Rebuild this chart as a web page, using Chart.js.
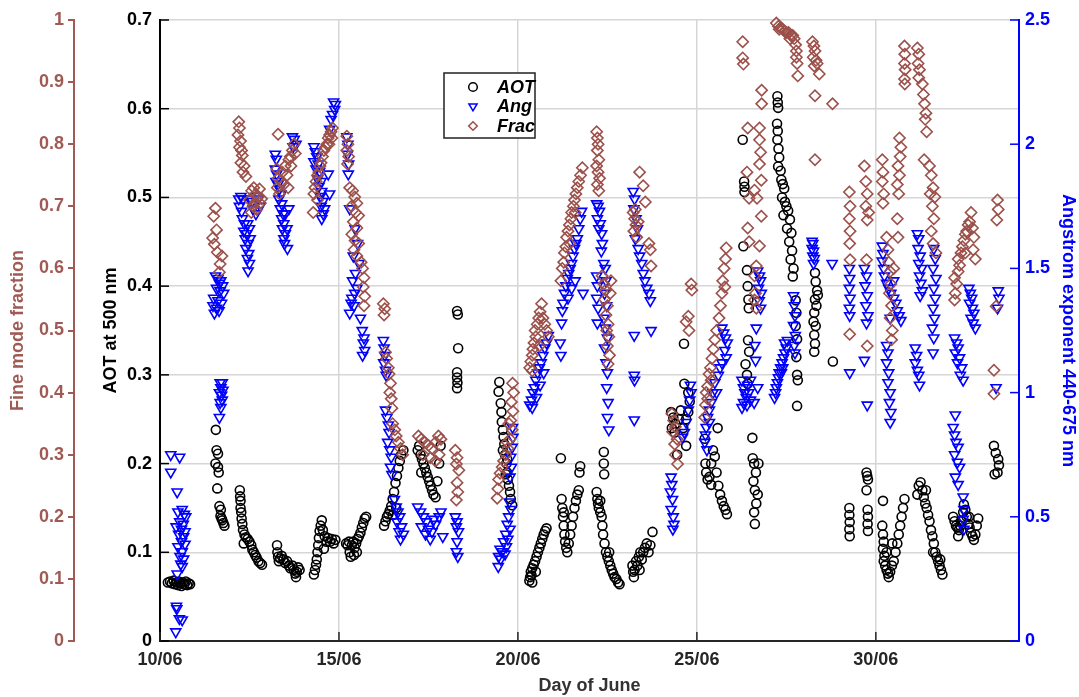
<!DOCTYPE html>
<html>
<head>
<meta charset="utf-8">
<title>AOT, Angstrom exponent and fine mode fraction - June</title>
<script src="https://cdn.jsdelivr.net/npm/chart.js"></script>
<style>
  html, body { margin: 0; padding: 0; background: #fff; }
  #wrap { width: 1079px; height: 697px; }
</style>
</head>
<body>
<div id="wrap"><canvas id="aod"></canvas></div>
<script>
// day-of-June tick positions
const dayTicks = [10, 15, 20, 25, 30];

// AOT at 500 nm, [day, value]
const aotPoints = [
  [10.22,0.066],[10.28,0.067],[10.33,0.065],[10.38,0.068],[10.42,0.064],[10.46,0.066],[10.5,0.063],[10.53,0.067],[10.57,0.065],[10.6,0.062],[10.64,0.066],[10.68,0.064],[10.72,0.067],[10.76,0.063],[10.8,0.065],[10.84,0.064],
  [11.56,0.238],[11.58,0.215],[11.62,0.211],[11.55,0.2],[11.64,0.19],[11.6,0.172],[11.66,0.152],[11.69,0.141],[11.74,0.136],[11.8,0.13],[11.72,0.138],[11.77,0.133],[11.7,0.148],[11.62,0.196],
  [12.23,0.17],[12.24,0.163],[12.25,0.158],[12.25,0.15],[12.27,0.145],[12.28,0.138],[12.3,0.132],[12.32,0.125],[12.36,0.12],[12.4,0.117],[12.45,0.115],[12.5,0.112],[12.55,0.108],[12.58,0.103],[12.62,0.1],[12.66,0.097],[12.7,0.094],[12.75,0.09],[12.8,0.088],[12.85,0.086],[12.34,0.11],
  [13.27,0.108],[13.28,0.1],[13.3,0.095],[13.32,0.09],[13.36,0.093],[13.4,0.096],[13.45,0.092],[13.5,0.088],[13.55,0.09],[13.6,0.085],[13.64,0.082],[13.7,0.085],[13.74,0.08],[13.78,0.076],[13.82,0.078],[13.86,0.083],[13.9,0.08],[13.8,0.072],
  [14.3,0.075],[14.33,0.08],[14.36,0.086],[14.38,0.092],[14.4,0.1],[14.42,0.108],[14.44,0.116],[14.46,0.124],[14.49,0.13],[14.52,0.136],[14.55,0.125],[14.6,0.118],[14.65,0.112],[14.7,0.116],[14.75,0.112],[14.8,0.115],[14.85,0.11],[14.9,0.114],[14.58,0.104],
  [15.2,0.11],[15.24,0.108],[15.28,0.112],[15.3,0.1],[15.33,0.095],[15.36,0.108],[15.4,0.112],[15.44,0.105],[15.48,0.11],[15.52,0.115],[15.56,0.118],[15.6,0.122],[15.64,0.128],[15.68,0.133],[15.72,0.138],[15.76,0.14],[15.5,0.1],[15.42,0.097],
  [16.26,0.13],[16.3,0.135],[16.34,0.14],[16.38,0.143],[16.42,0.147],[16.46,0.152],[16.5,0.16],[16.54,0.168],[16.58,0.178],[16.62,0.186],[16.66,0.195],[16.7,0.203],[16.74,0.21],[16.8,0.215],[16.6,0.15],[16.5,0.142],
  [17.2,0.215],[17.24,0.22],[17.28,0.21],[17.32,0.205],[17.36,0.2],[17.4,0.195],[17.44,0.19],[17.48,0.185],[17.52,0.18],[17.56,0.175],[17.6,0.17],[17.64,0.165],[17.7,0.162],[17.75,0.18],[17.8,0.2],[17.84,0.22],[17.3,0.19],
  [18.3,0.372],[18.32,0.368],[18.33,0.33],[18.3,0.303],[18.3,0.297],[18.31,0.291],[18.3,0.285],
  [19.48,0.292],[19.46,0.281],[19.52,0.268],[19.54,0.258],[19.55,0.247],[19.58,0.238],[19.6,0.23],[19.62,0.222],[19.58,0.215],[19.64,0.21],[19.68,0.2],[19.7,0.19],[19.72,0.182],[19.75,0.175],[19.78,0.168],[19.8,0.16],[19.84,0.153],[19.66,0.188],[19.7,0.205],
  [20.32,0.068],[20.34,0.072],[20.36,0.078],[20.38,0.074],[20.4,0.082],[20.44,0.086],[20.48,0.09],[20.52,0.095],[20.56,0.1],[20.6,0.105],[20.64,0.11],[20.68,0.115],[20.72,0.12],[20.76,0.124],[20.8,0.127],[20.4,0.066],[20.5,0.078],
  [21.2,0.206],[21.22,0.16],[21.24,0.15],[21.26,0.14],[21.28,0.13],[21.3,0.12],[21.32,0.112],[21.35,0.105],[21.38,0.1],[21.42,0.11],[21.46,0.12],[21.5,0.13],[21.54,0.14],[21.58,0.15],[21.62,0.158],[21.66,0.165],[21.7,0.17],[21.74,0.197],[21.72,0.19],[21.28,0.145],
  [22.4,0.213],[22.4,0.2],[22.41,0.188],[22.2,0.168],[22.22,0.16],[22.24,0.155],[22.26,0.15],[22.3,0.145],[22.34,0.14],[22.38,0.12],[22.42,0.11],[22.46,0.1],[22.5,0.095],[22.54,0.09],[22.58,0.085],[22.62,0.08],[22.66,0.076],[22.7,0.072],[22.75,0.07],[22.8,0.066],[22.84,0.064],[22.36,0.13],[22.3,0.158],[22.55,0.1],
  [23.2,0.085],[23.22,0.078],[23.24,0.072],[23.26,0.08],[23.3,0.09],[23.34,0.085],[23.38,0.095],[23.42,0.1],[23.46,0.092],[23.5,0.1],[23.55,0.105],[23.6,0.11],[23.65,0.1],[23.7,0.108],[23.76,0.123],[23.4,0.08],
  [24.64,0.335],[24.65,0.29],[24.76,0.28],[24.28,0.258],[24.34,0.252],[24.4,0.245],[24.3,0.24],[24.38,0.235],[24.5,0.25],[24.55,0.26],[24.62,0.24],[24.7,0.25],[24.8,0.27],[24.76,0.258],[24.7,0.22],[24.45,0.21],
  [25.22,0.228],[25.24,0.2],[25.26,0.19],[25.3,0.182],[25.35,0.185],[25.4,0.2],[25.45,0.215],[25.5,0.208],[25.55,0.19],[25.6,0.175],[25.65,0.165],[25.7,0.158],[25.75,0.152],[25.8,0.148],[25.84,0.143],[25.58,0.24],[25.4,0.176],
  [26.28,0.565],[26.32,0.518],[26.33,0.512],[26.33,0.506],[26.3,0.445],[26.4,0.418],[26.42,0.4],[26.44,0.385],[26.45,0.375],[26.43,0.339],[26.46,0.326],[26.36,0.312],[26.4,0.3],[26.42,0.29],[26.55,0.229],[26.56,0.206],[26.6,0.2],[26.65,0.19],[26.58,0.18],[26.62,0.17],[26.7,0.165],[26.66,0.155],[26.6,0.145],[26.62,0.132],[26.72,0.2],
  [27.25,0.614],[27.26,0.607],[27.27,0.601],[27.24,0.583],[27.26,0.575],[27.25,0.565],[27.28,0.555],[27.3,0.545],[27.27,0.535],[27.34,0.53],[27.36,0.52],[27.4,0.515],[27.44,0.51],[27.38,0.5],[27.46,0.495],[27.5,0.49],[27.42,0.48],[27.55,0.485],[27.6,0.475],[27.52,0.465],[27.64,0.46],[27.58,0.45],[27.66,0.44],[27.62,0.43],[27.7,0.42],[27.68,0.411],[27.76,0.384],[27.78,0.37],[27.76,0.355],[27.8,0.34],[27.78,0.32],[27.8,0.3],[27.82,0.294],[27.8,0.265],
  [28.3,0.415],[28.32,0.405],[28.36,0.395],[28.3,0.385],[28.34,0.378],[28.28,0.37],[28.26,0.36],[28.32,0.355],[28.28,0.345],[28.3,0.335],[28.28,0.326],[28.38,0.39],[28.8,0.315],
  [29.26,0.15],[29.26,0.142],[29.27,0.134],[29.26,0.126],[29.27,0.118],[29.74,0.19],[29.76,0.186],[29.78,0.182],[29.74,0.17],[29.77,0.148],[29.78,0.14],[29.77,0.132],[29.78,0.124],
  [30.18,0.13],[30.2,0.12],[30.22,0.112],[30.2,0.104],[30.24,0.096],[30.22,0.09],[30.26,0.085],[30.3,0.08],[30.34,0.076],[30.36,0.072],[30.4,0.078],[30.45,0.085],[30.5,0.09],[30.55,0.1],[30.6,0.11],[30.64,0.12],[30.68,0.13],[30.72,0.14],[30.76,0.15],[30.8,0.16],[30.2,0.158],[30.46,0.11],[30.3,0.1],
  [31.16,0.165],[31.2,0.175],[31.25,0.179],[31.3,0.17],[31.34,0.162],[31.38,0.155],[31.42,0.15],[31.46,0.142],[31.5,0.135],[31.54,0.125],[31.58,0.118],[31.62,0.11],[31.66,0.1],[31.7,0.095],[31.74,0.09],[31.78,0.085],[31.82,0.08],[31.86,0.075],[31.4,0.17],[31.6,0.1],[31.8,0.092],
  [32.16,0.14],[32.2,0.135],[32.24,0.13],[32.28,0.128],[32.32,0.125],[32.36,0.13],[32.4,0.135],[32.44,0.145],[32.46,0.154],[32.5,0.148],[32.54,0.14],[32.58,0.132],[32.62,0.128],[32.66,0.122],[32.7,0.118],[32.74,0.114],[32.78,0.12],[32.82,0.13],[32.86,0.138],[32.3,0.118],[32.6,0.14],
  [33.3,0.22],[33.35,0.212],[33.42,0.205],[33.44,0.198],[33.4,0.19],[33.32,0.188]
];

// Angstrom exponent 440-675 nm, [day, value]
const angPoints = [
  [10.3,0.75],[10.55,0.74],[10.3,0.68],[10.48,0.6],[10.5,0.52],[10.62,0.53],[10.68,0.51],[10.72,0.5],[10.55,0.48],[10.65,0.47],[10.45,0.46],[10.6,0.45],[10.7,0.44],[10.52,0.43],[10.66,0.42],[10.6,0.4],[10.7,0.39],[10.5,0.38],[10.62,0.36],[10.56,0.34],[10.66,0.33],[10.58,0.31],[10.62,0.3],[10.48,0.27],[10.46,0.14],[10.47,0.13],[10.54,0.09],[10.62,0.085],[10.44,0.037],
  [11.55,1.47],[11.62,1.46],[11.7,1.45],[11.66,1.44],[11.75,1.43],[11.58,1.42],[11.68,1.41],[11.78,1.4],[11.5,1.38],[11.62,1.37],[11.72,1.36],[11.48,1.35],[11.58,1.34],[11.65,1.33],[11.52,1.32],
  [11.68,1.04],[11.74,1.04],[11.7,1.02],[11.76,1.01],[11.66,1.0],[11.72,0.99],[11.74,0.97],[11.68,0.96],[11.7,0.94],[11.66,0.9],
  [12.2,1.78],[12.26,1.79],[12.32,1.78],[12.22,1.75],[12.28,1.73],[12.5,1.78],[12.58,1.77],[12.66,1.79],[12.75,1.78],[12.8,1.75],[12.3,1.7],[12.36,1.68],[12.45,1.68],[12.34,1.65],[12.42,1.64],[12.5,1.66],[12.38,1.62],[12.46,1.6],[12.52,1.62],[12.4,1.58],[12.48,1.56],[12.44,1.54],[12.5,1.52],[12.46,1.49],[12.6,1.74],[12.68,1.72],
  [13.7,2.03],[13.75,2.02],[13.8,2.0],[13.72,1.99],[13.22,1.96],[13.25,1.94],[13.22,1.9],[13.26,1.88],[13.24,1.85],[13.3,1.84],[13.34,1.82],[13.38,1.8],[13.32,1.78],[13.4,1.76],[13.36,1.74],[13.44,1.72],[13.4,1.7],[13.5,1.72],[13.46,1.68],[13.42,1.66],[13.5,1.64],[13.46,1.62],[13.48,1.6],[13.55,1.66],[13.6,1.74],[13.56,1.58],
  [14.85,2.17],[14.9,2.16],[14.88,2.14],[14.82,2.12],[14.78,2.1],[14.74,2.06],[14.3,1.99],[14.34,1.97],[14.38,1.95],[14.3,1.93],[14.42,1.92],[14.36,1.9],[14.46,1.89],[14.4,1.86],[14.5,1.85],[14.44,1.83],[14.52,1.81],[14.48,1.79],[14.55,1.77],[14.5,1.75],[14.6,1.74],[14.56,1.72],[14.52,1.7],[14.7,1.88],[14.74,1.8],
  [15.22,2.03],[15.25,2.0],[15.24,1.96],[15.27,1.92],[15.26,1.88],
  [15.3,1.74],[15.45,1.66],[15.52,1.6],[15.4,1.55],[15.56,1.52],[15.46,1.48],[15.38,1.45],[15.5,1.42],[15.44,1.4],[15.36,1.38],[15.42,1.35],[15.3,1.32],[15.6,1.3],[15.65,1.25],[15.7,1.22],[15.68,1.2],[15.72,1.17],[15.66,1.15],[15.34,1.36],
  [16.24,1.21],[16.26,1.18],[16.28,1.15],[16.25,1.12],[16.3,1.09],[16.32,1.07],[16.3,0.93],[16.34,0.9],[16.38,0.87],[16.4,0.84],[16.36,0.8],[16.42,0.77],[16.46,0.74],[16.44,0.7],[16.48,0.67],
  [16.55,0.57],[16.6,0.54],[16.65,0.52],[16.7,0.5],[16.62,0.48],[16.75,0.46],[16.68,0.44],[16.8,0.43],[16.72,0.41],
  [17.2,0.54],[17.28,0.52],[17.36,0.5],[17.44,0.48],[17.3,0.46],[17.5,0.45],[17.42,0.43],[17.6,0.44],[17.7,0.47],[17.8,0.5],[17.85,0.52],[17.9,0.42],[17.55,0.41],[17.65,0.49],
  [18.25,0.5],[18.3,0.48],[18.28,0.46],[18.34,0.44],[18.3,0.4],[18.28,0.36],[18.32,0.34],
  [19.85,0.86],[19.86,0.82],[19.84,0.78],[19.8,0.74],[19.82,0.7],[19.78,0.66],[19.76,0.56],[19.8,0.53],[19.74,0.5],[19.7,0.47],[19.78,0.45],[19.66,0.43],[19.72,0.41],[19.6,0.4],[19.68,0.38],[19.5,0.37],[19.56,0.36],[19.64,0.35],[19.46,0.34],[19.52,0.33],[19.45,0.3],
  [20.33,0.95],[20.38,0.97],[20.42,1.0],[20.46,1.02],[20.5,1.05],[20.55,1.08],[20.6,1.1],[20.65,1.12],[20.7,1.15],[20.75,1.18],[20.8,1.2],[20.85,1.23],[20.4,0.94],[20.52,0.98],[20.62,1.03],[20.72,1.08],
  [21.2,1.15],[21.18,1.2],[21.22,1.28],[21.24,1.33],[21.26,1.36],[21.3,1.4],[21.34,1.43],[21.38,1.46],[21.42,1.48],[21.46,1.5],[21.5,1.52],[21.54,1.55],[21.58,1.58],[21.62,1.6],[21.66,1.62],[21.7,1.66],[21.74,1.7],[21.78,1.73],[21.6,1.45],[21.5,1.42],[21.82,1.4],[21.4,1.38],
  [22.2,1.76],[22.24,1.75],[22.28,1.73],[22.22,1.7],[22.3,1.68],[22.26,1.66],[22.34,1.64],[22.36,1.6],[22.33,1.57],[22.4,1.52],[22.2,1.47],[22.22,1.43],[22.2,1.38],[22.24,1.34],[22.22,1.28],[22.44,1.5],[22.46,1.45],[22.42,1.4],[22.48,1.35],[22.4,1.3],[22.44,1.26],[22.5,1.22],[22.42,1.18],[22.46,1.12],[22.5,1.08],[22.48,1.02],[22.52,0.96],[22.5,0.9],[22.54,0.85],
  [23.22,1.81],[23.26,1.78],[23.24,1.74],[23.3,1.7],[23.34,1.66],[23.28,1.62],[23.36,1.58],[23.4,1.55],[23.46,1.52],[23.5,1.48],[23.55,1.45],[23.6,1.42],[23.66,1.4],[23.7,1.37],[23.25,1.23],[23.72,1.25],[23.25,1.07],[23.26,1.05],[23.25,0.89],
  [24.82,1.03],[24.84,1.0],[24.8,0.97],[24.76,0.93],[24.7,0.88],[24.65,0.84],[24.6,0.82],[24.28,0.66],[24.3,0.63],[24.26,0.6],[24.32,0.57],[24.28,0.53],[24.34,0.5],[24.36,0.47],[24.33,0.45],
  [25.7,1.26],[25.75,1.24],[25.8,1.22],[25.85,1.2],[25.78,1.17],[25.82,1.14],[25.7,1.12],[25.6,1.07],[25.5,1.04],[25.45,1.0],[25.4,0.96],[25.35,0.93],[25.3,0.9],[25.26,0.86],[25.24,0.83],[25.22,0.8],[25.28,0.77],[25.35,0.88],[25.55,1.0],[25.65,1.1],
  [26.26,1.05],[26.3,1.02],[26.34,1.0],[26.38,0.98],[26.3,0.96],[26.4,0.95],[26.26,0.94],[26.45,1.0],[26.5,0.97],[26.42,1.03],[26.5,1.05],[26.7,1.49],[26.75,1.47],[26.78,1.45],[26.72,1.42],[26.8,1.4],[26.74,1.37],[26.78,1.34],[26.66,1.26],[26.62,1.19],[26.64,1.13],[26.7,1.02],[26.6,0.96],
  [27.17,0.98],[27.2,1.0],[27.22,1.02],[27.25,1.04],[27.28,1.06],[27.3,1.08],[27.34,1.1],[27.38,1.12],[27.42,1.14],[27.46,1.16],[27.5,1.18],[27.53,1.21],[27.45,1.2],[27.36,1.08],[27.7,1.39],[27.72,1.35],[27.74,1.31],[27.7,1.27],[27.75,1.23],[27.72,1.19],[27.74,1.16],[27.4,1.1],
  [28.22,1.61],[28.24,1.6],[28.22,1.58],[28.26,1.57],[28.24,1.55],[28.28,1.54],[28.26,1.52],[28.78,1.52],
  [29.26,1.5],[29.27,1.46],[29.26,1.42],[29.28,1.38],[29.26,1.34],[29.27,1.31],[29.27,1.08],[29.68,1.5],[29.74,1.47],[29.7,1.43],[29.76,1.39],[29.72,1.35],[29.78,1.31],[29.74,1.28],[29.68,1.13],[29.76,0.95],
  [30.18,1.59],[30.2,1.56],[30.18,1.53],[30.22,1.5],[30.24,1.47],[30.3,1.44],[30.36,1.42],[30.42,1.4],[30.5,1.38],[30.56,1.36],[30.6,1.33],[30.65,1.31],[30.7,1.29],[30.4,1.3],[30.3,1.19],[30.34,1.16],[30.3,1.12],[30.36,1.08],[30.34,1.04],[30.4,1.0],[30.38,0.96],[30.42,0.92],[30.4,0.88],[30.5,1.45],
  [31.16,1.64],[31.2,1.62],[31.18,1.58],[31.24,1.55],[31.2,1.52],[31.28,1.5],[31.22,1.47],[31.26,1.44],[31.3,1.41],[31.24,1.39],[31.62,1.58],[31.66,1.54],[31.6,1.5],[31.68,1.46],[31.62,1.42],[31.66,1.38],[31.6,1.34],[31.64,1.3],[31.58,1.26],[31.62,1.22],[31.6,1.16],[31.1,1.18],[31.14,1.15],[31.1,1.12],[31.16,1.09],[31.2,1.07],[31.22,1.03],
  [32.6,1.42],[32.64,1.4],[32.68,1.38],[32.62,1.36],[32.7,1.34],[32.74,1.32],[32.66,1.3],[32.72,1.28],[32.78,1.26],[32.2,1.22],[32.26,1.2],[32.3,1.18],[32.22,1.16],[32.34,1.14],[32.28,1.12],[32.4,1.1],[32.36,1.07],[32.44,1.05],[32.22,0.91],[32.16,0.86],[32.2,0.83],[32.24,0.8],[32.3,0.78],[32.2,0.75],[32.28,0.72],[32.34,0.7],[32.22,0.66],[32.3,0.63],[32.44,0.58],[32.46,0.53],[32.44,0.49],[32.46,0.45],
  [33.42,1.41],[33.44,1.38],[33.4,1.34],[33.36,1.02]
];

// fine mode fraction, [day, value]
const fracPoints = [
  [11.55,0.697],[11.5,0.684],[11.58,0.662],[11.47,0.649],[11.52,0.639],[11.6,0.626],[11.73,0.62],[11.68,0.607],[11.66,0.594],
  [12.2,0.836],[12.22,0.826],[12.18,0.815],[12.25,0.805],[12.22,0.795],[12.28,0.79],[12.3,0.782],[12.26,0.77],[12.35,0.765],[12.32,0.755],[12.4,0.748],
  [12.5,0.71],[12.56,0.725],[12.62,0.73],[12.68,0.72],[12.74,0.715],[12.8,0.705],[12.6,0.7],[12.7,0.695],[12.55,0.69],[12.78,0.728],[12.66,0.706],[12.84,0.712],
  [13.3,0.816],[13.26,0.76],[13.3,0.745],[13.28,0.73],[13.34,0.72],[13.38,0.74],[13.42,0.755],[13.46,0.735],[13.5,0.765],[13.55,0.75],[13.6,0.775],[13.64,0.78],[13.7,0.79],[13.74,0.8],[13.78,0.785],[13.66,0.765],[13.58,0.73],
  [14.3,0.72],[14.33,0.73],[14.36,0.74],[14.4,0.75],[14.44,0.755],[14.47,0.765],[14.5,0.77],[14.54,0.78],[14.58,0.79],[14.62,0.795],[14.66,0.8],[14.7,0.81],[14.74,0.815],[14.78,0.82],[14.82,0.826],[14.8,0.81],[14.72,0.8],[14.28,0.69],[14.4,0.71],
  [15.22,0.813],[15.25,0.8],[15.22,0.79],[15.27,0.78],[15.24,0.768],
  [15.3,0.73],[15.38,0.725],[15.44,0.715],[15.5,0.705],[15.35,0.7],[15.46,0.69],[15.55,0.685],[15.4,0.675],[15.5,0.665],[15.36,0.655],[15.45,0.645],[15.55,0.64],[15.42,0.63],[15.5,0.62],[15.62,0.61],[15.66,0.6],[15.7,0.585],[15.68,0.57],[15.72,0.555],[15.7,0.54],
  [16.24,0.543],[16.28,0.535],[16.26,0.525],[16.3,0.465],[16.33,0.455],[16.38,0.44],[16.4,0.43],[16.44,0.415],[16.42,0.4],[16.46,0.39],[16.48,0.375],[16.5,0.35],[16.56,0.34],[16.6,0.33],[16.66,0.32],[16.72,0.31],[16.78,0.3],
  [17.22,0.33],[17.3,0.325],[17.4,0.32],[17.5,0.315],[17.6,0.31],[17.7,0.32],[17.78,0.33],[17.85,0.325],[17.35,0.3],[17.55,0.295],[17.7,0.29],[17.8,0.3],
  [18.25,0.307],[18.3,0.295],[18.28,0.285],[18.35,0.275],[18.3,0.255],[18.32,0.24],[18.28,0.227],
  [19.85,0.415],[19.88,0.4],[19.82,0.385],[19.86,0.37],[19.8,0.355],[19.84,0.34],[19.78,0.325],[19.72,0.31],[19.66,0.3],[19.6,0.29],[19.56,0.28],[19.5,0.27],[19.46,0.26],[19.44,0.245],[19.42,0.23],[19.7,0.32],[19.75,0.35],
  [20.33,0.44],[20.36,0.45],[20.4,0.46],[20.42,0.47],[20.45,0.48],[20.5,0.49],[20.48,0.5],[20.54,0.51],[20.58,0.52],[20.62,0.53],[20.66,0.543],[20.7,0.52],[20.75,0.51],[20.8,0.5],[20.85,0.49],[20.6,0.475],[20.4,0.435],
  [21.2,0.58],[21.24,0.6],[21.28,0.61],[21.3,0.625],[21.34,0.635],[21.36,0.65],[21.4,0.66],[21.44,0.67],[21.48,0.68],[21.5,0.69],[21.55,0.7],[21.58,0.71],[21.62,0.72],[21.66,0.73],[21.7,0.74],[21.75,0.75],[21.8,0.762],[21.45,0.64],[21.6,0.69],
  [22.2,0.82],[22.22,0.81],[22.24,0.8],[22.22,0.79],[22.26,0.775],[22.2,0.765],[22.24,0.755],[22.28,0.745],[22.22,0.735],[22.26,0.725],
  [22.35,0.588],[22.4,0.575],[22.45,0.565],[22.42,0.55],[22.5,0.54],[22.46,0.525],[22.52,0.51],[22.48,0.5],[22.54,0.49],[22.5,0.475],[22.56,0.46],[22.52,0.446],[22.6,0.58],[22.58,0.56],
  [23.4,0.755],[23.5,0.733],[23.56,0.707],[23.22,0.69],[23.26,0.68],[23.3,0.67],[23.24,0.66],[23.32,0.65],[23.28,0.695],[23.66,0.64],[23.7,0.63],[23.72,0.604],[23.36,0.675],
  [24.84,0.575],[24.86,0.565],[24.76,0.523],[24.7,0.514],[24.78,0.5],[24.3,0.366],[24.35,0.355],[24.4,0.345],[24.32,0.337],[24.45,0.325],[24.38,0.317],[24.46,0.285],[24.4,0.3],
  [25.22,0.36],[25.24,0.38],[25.26,0.4],[25.3,0.41],[25.34,0.43],[25.38,0.44],[25.42,0.455],[25.46,0.47],[25.5,0.485],[25.55,0.5],[25.62,0.52],[25.66,0.54],[25.7,0.56],[25.72,0.58],[25.76,0.6],[25.8,0.615],[25.82,0.633],[25.78,0.57],[25.3,0.39],[25.4,0.42],
  [26.28,0.965],[26.28,0.939],[26.3,0.929],[26.81,0.887],[26.81,0.865],[26.42,0.826],[26.75,0.826],[26.75,0.807],[26.78,0.787],[26.75,0.768],[26.4,0.755],[26.8,0.742],[26.61,0.726],[26.46,0.713],[26.68,0.713],[26.8,0.684],[26.42,0.665],[26.46,0.643],[26.75,0.636],[26.66,0.604],[26.61,0.588],[26.61,0.549],[26.66,0.536],[26.64,0.56],
  [27.22,0.995],[27.28,0.99],[27.34,0.988],[27.4,0.985],[27.45,0.982],[27.5,0.98],[27.56,0.98],[27.62,0.976],[27.68,0.975],[27.72,0.97],[27.76,0.96],[27.78,0.95],[27.78,0.94],[27.8,0.93],[27.82,0.91],[27.3,0.985],[27.6,0.97],
  [28.23,0.965],[28.27,0.958],[28.3,0.95],[28.25,0.94],[28.33,0.935],[28.28,0.926],[28.36,0.93],[28.42,0.913],[28.3,0.878],[28.79,0.865],[28.3,0.775],
  [29.26,0.723],[29.28,0.7],[29.26,0.68],[29.28,0.66],[29.27,0.64],[29.28,0.614],[29.27,0.494],[29.68,0.765],[29.72,0.74],[29.76,0.72],[29.72,0.7],[29.8,0.69],[29.76,0.678],[29.74,0.614],[29.76,0.475],
  [30.8,0.958],[30.81,0.945],[30.8,0.93],[30.82,0.92],[30.8,0.905],[30.81,0.897],[30.18,0.775],[30.2,0.755],[30.18,0.74],[30.22,0.72],[30.2,0.705],[30.66,0.81],[30.7,0.795],[30.68,0.78],[30.62,0.765],[30.66,0.75],[30.6,0.735],[30.64,0.72],[30.6,0.68],[30.62,0.65],
  [30.3,0.65],[30.34,0.63],[30.36,0.61],[30.4,0.595],[30.42,0.575],[30.38,0.56],[30.44,0.54],[30.4,0.52],[30.46,0.5],[30.44,0.485],[30.5,0.6],
  [31.16,0.955],[31.2,0.945],[31.18,0.93],[31.22,0.92],[31.2,0.907],[31.3,0.897],[31.33,0.88],[31.36,0.865],[31.4,0.85],[31.38,0.84],[31.42,0.82],[31.5,0.765],[31.55,0.75],[31.6,0.73],[31.52,0.72],[31.65,0.715],[31.58,0.7],[31.62,0.68],[31.55,0.66],[31.6,0.64],[31.68,0.625],[31.35,0.775],
  [32.2,0.549],[32.22,0.56],[32.26,0.575],[32.2,0.585],[32.3,0.595],[32.34,0.605],[32.3,0.615],[32.38,0.625],[32.42,0.635],[32.46,0.645],[32.5,0.655],[32.54,0.66],[32.58,0.67],[32.62,0.675],[32.66,0.69],[32.7,0.665],[32.74,0.65],[32.72,0.63],[32.78,0.615],[32.5,0.625],
  [33.4,0.71],[33.42,0.695],[33.38,0.678],[33.36,0.539],[33.3,0.436],[33.3,0.398]
];

const BROWN_AXIS = '#a05a54';
const BROWN = '#9c504a';
const BLUE = '#0000ff';
const GRID = '#d6d6d6';
const DARK = '#262626';

Chart.defaults.font.family = "'Liberation Sans', Arial, sans-serif";
Chart.defaults.font.size = 18;
Chart.defaults.font.weight = 'bold';

const asXY = pts => pts.map(([x, y]) => ({ x, y }));
const fmt = v => String(Math.round(v * 100) / 100);

// tick marks pointing into the plot area
const innerTicks = {
  id: 'innerTicks',
  afterDraw(chart) {
    const { ctx, chartArea: a, scales } = chart;
    const len = 9;
    ctx.save();
    ctx.lineWidth = 1.5;
    ctx.strokeStyle = '#000';
    scales.yAot.ticks.forEach(t => {
      const y = scales.yAot.getPixelForValue(t.value);
      ctx.beginPath(); ctx.moveTo(a.left, y); ctx.lineTo(a.left + len, y); ctx.stroke();
    });
    ctx.strokeStyle = DARK;
    scales.x.ticks.forEach(t => {
      const x = scales.x.getPixelForValue(t.value);
      ctx.beginPath(); ctx.moveTo(x, a.bottom); ctx.lineTo(x, a.bottom - len); ctx.stroke();
    });
    ctx.strokeStyle = BLUE;
    scales.yAng.ticks.forEach(t => {
      const y = scales.yAng.getPixelForValue(t.value);
      ctx.beginPath(); ctx.moveTo(a.right, y); ctx.lineTo(a.right - len, y); ctx.stroke();
    });
    ctx.restore();
  }
};

function legendMarker(ctx, style, x, y, r) {
  ctx.beginPath();
  if (style === 'circle') {
    ctx.arc(x, y, r, 0, Math.PI * 2);
  } else if (style === 'triangle') {
    ctx.moveTo(x, y + r);
    ctx.lineTo(x - r * 0.95, y - r * 0.6);
    ctx.lineTo(x + r * 0.95, y - r * 0.6);
    ctx.closePath();
  } else {
    ctx.moveTo(x, y - r); ctx.lineTo(x + r, y); ctx.lineTo(x, y + r); ctx.lineTo(x - r, y); ctx.closePath();
  }
  ctx.stroke();
}

// boxed legend inside the plot
const boxLegend = {
  id: 'boxLegend',
  afterDraw(chart) {
    const { ctx, chartArea: a } = chart;
    const left = a.left + 284, top = a.top + 53, w = 91, h = 65;
    ctx.save();
    ctx.fillStyle = '#fff';
    ctx.fillRect(left, top, w, h);
    ctx.lineWidth = 1.5;
    ctx.strokeStyle = '#222';
    ctx.strokeRect(left, top, w, h);
    ctx.font = "italic bold 18px 'Liberation Sans', Arial, sans-serif";
    ctx.textBaseline = 'middle';
    chart.data.datasets.forEach((ds, i) => {
      const y = top + 14 + i * 19.5;
      ctx.strokeStyle = ds.borderColor;
      ctx.lineWidth = 1.5;
      legendMarker(ctx, ds.pointStyle, left + 29, y, 4.3);
      ctx.fillStyle = '#000';
      ctx.fillText(ds.label, left + 53, y + 1);
    });
    ctx.restore();
  }
};

new Chart(document.getElementById('aod'), {
  type: 'scatter',
  data: {
    datasets: [
      { label: 'AOT', data: asXY(aotPoints), yAxisID: 'yAot', order: 3,
        pointStyle: 'circle', pointRadius: 4.5, borderWidth: 1.6,
        borderColor: '#000', backgroundColor: 'rgba(0,0,0,0)', clip: 8 },
      { label: 'Ang', data: asXY(angPoints), yAxisID: 'yAng', order: 2,
        pointStyle: 'triangle', pointRotation: 180, pointRadius: 5.8, borderWidth: 1.6,
        borderColor: BLUE, backgroundColor: 'rgba(0,0,0,0)', clip: 8 },
      { label: 'Frac', data: asXY(fracPoints), yAxisID: 'yFrac', order: 1,
        pointStyle: 'rectRot', pointRadius: 5.6, borderWidth: 1.6,
        borderColor: BROWN, backgroundColor: 'rgba(0,0,0,0)', clip: 8 }
    ]
  },
  options: {
    responsive: true,
    maintainAspectRatio: false,
    animation: false,
    layout: { padding: { top: 20, left: 0, right: 0, bottom: 0 } },
    plugins: { legend: { display: false }, tooltip: { enabled: false } },
    scales: {
      x: {
        type: 'linear', position: 'bottom', min: 10, max: 34,
        afterBuildTicks: s => { s.ticks = dayTicks.map(v => ({ value: v })); },
        afterFit: s => { s.height = 56; },
        ticks: { color: DARK, padding: 8, callback: v => String(v).padStart(2, '0') + '/06' },
        grid: { color: GRID, lineWidth: 1.5, drawTicks: false },
        border: { color: DARK, width: 2 },
        title: { display: true, text: 'Day of June', color: '#333', padding: { top: 0, bottom: 0 } }
      },
      yFrac: {
        type: 'linear', position: 'left', weight: 2, min: 0, max: 1,
        afterFit: s => { s.width = 74; },
        ticks: { stepSize: 0.1, color: BROWN_AXIS, padding: 4, callback: fmt },
        grid: { drawOnChartArea: false, drawTicks: true, tickLength: 6, color: BROWN_AXIS, lineWidth: 2 },
        border: { color: BROWN_AXIS, width: 2 },
        title: { display: true, text: 'Fine mode fraction', color: BROWN_AXIS, padding: { top: 7, bottom: 0 } }
      },
      yAot: {
        type: 'linear', position: 'left', weight: 1, min: 0, max: 0.7,
        afterFit: s => { s.width = 86; },
        ticks: { stepSize: 0.1, color: '#000', padding: 8, callback: fmt },
        grid: { color: GRID, lineWidth: 1.5, drawTicks: false },
        border: { color: '#000', width: 2 },
        title: { display: true, text: 'AOT at 500 nm', color: '#000', padding: { top: 26, bottom: 0 } }
      },
      yAng: {
        type: 'linear', position: 'right', min: 0, max: 2.5,
        afterFit: s => { s.width = 60; },
        ticks: { stepSize: 0.5, color: BLUE, padding: 6, callback: fmt },
        grid: { drawOnChartArea: false, drawTicks: false },
        border: { color: BLUE, width: 2 },
        title: { display: true, text: 'Angstrom exponent 440-675 nm', color: BLUE, padding: { top: 0, bottom: 0 } }
      }
    }
  },
  plugins: [innerTicks, boxLegend]
});
</script>
</body>
</html>
